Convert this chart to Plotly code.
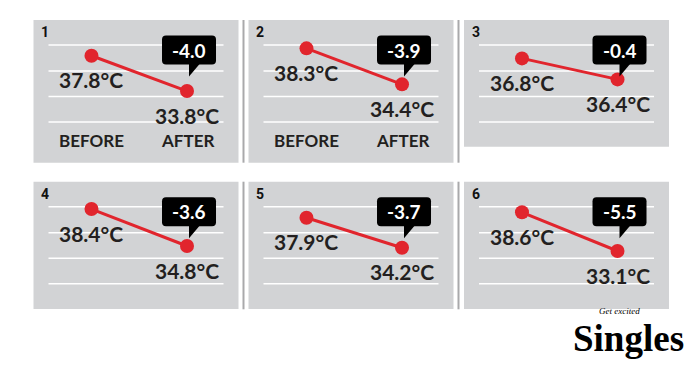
import plotly.graph_objects as go

# ---------------- data ----------------
categories = ["BEFORE", "AFTER"]
panel_numbers = ["1", "2", "3", "4", "5", "6"]
before_temp = [37.8, 38.3, 36.8, 38.4, 37.9, 38.6]
after_temp = [33.8, 34.4, 36.4, 34.8, 34.2, 33.1]
show_category_labels = [True, True, False, False, False, False]

# ---------------- layout / style ----------------
OFF = 8                      # page body margin
W, H = 700 - OFF, 371 - OFF  # figure size so the page fits the window
GRAY = "#d2d3d5"
RED = "#e1252d"
INK = "#231f20"
SEP = "#a9a9ab"
FONT = "Lato"

col_left = [33.5, 248.5, 464.0, 33.5, 248.5, 464.0]
panel_w = 205.0
panel_tb = [(20, 162.7), (20, 162.7), (20, 146.7),
            (181.7, 309), (181.7, 309), (181.7, 309)]
# per-panel y axis ranges (infographic uses a free scale in every panel)
y_ranges = [[25.68, 41.85], [25.91, 41.37], [35.12, 37.53],
            [28.67, 41.06], [26.64, 42.34], [24.86, 42.95]]
x_range = [-0.607, 1.539]
grid_rel = [25, 51, 76.5, 102]


def X(p):
    return (p - OFF) / W


def Y(p):
    return 1 - (p - OFF) / H


fig = go.Figure()
shapes = []
annotations = []

# separators
for sx in (243.5, 458.5):
    for (t, b) in ((20, 162.7), (181.7, 309.3)):
        shapes.append(dict(type="line", xref="paper", yref="paper",
                           x0=X(sx), x1=X(sx), y0=Y(t), y1=Y(b),
                           line=dict(color=SEP, width=2), layer="below"))

for i in range(6):
    left = col_left[i]
    right = left + panel_w
    top, bot = panel_tb[i]
    ph = bot - top
    ax = "" if i == 0 else str(i + 1)

    # panel background
    shapes.append(dict(type="rect", xref="paper", yref="paper",
                       x0=X(left), x1=X(right), y0=Y(bot), y1=Y(top),
                       fillcolor=GRAY, line=dict(width=0), layer="below"))
    # white guide lines
    for g in grid_rel:
        shapes.append(dict(type="line", xref="paper", yref="paper",
                           x0=X(left + 15), x1=X(right - 15),
                           y0=Y(top + g), y1=Y(top + g),
                           line=dict(color="white", width=1.5), layer="below"))

    fig.add_trace(go.Scatter(
        x=categories, y=[before_temp[i], after_temp[i]],
        mode="lines+markers",
        line=dict(color=RED, width=3),
        marker=dict(color=RED, size=14),
        xaxis="x" + ax, yaxis="y" + ax,
        showlegend=False, hoverinfo="skip"))

    fig.layout["xaxis" + ax] = dict(
        domain=[X(left), X(right)], range=x_range, type="category",
        visible=False, fixedrange=True, anchor="y" + ax)
    fig.layout["yaxis" + ax] = dict(
        domain=[Y(bot), Y(top)], range=y_ranges[i], visible=False,
        fixedrange=True, anchor="x" + ax)

    # value labels
    for cat, v in zip(categories, (before_temp[i], after_temp[i])):
        annotations.append(dict(
            xref="x" + ax, yref="y" + ax, x=cat, y=v, yshift=-24,
            text=f"{v:.1f}°C", showarrow=False,
            font=dict(family=FONT, size=21, color=INK, weight="bold")))

    # panel number
    annotations.append(dict(
        xref="paper", yref="paper", x=X(left + 5.5), y=Y(top + 12.5),
        xanchor="left", yanchor="middle", text=panel_numbers[i],
        showarrow=False,
        font=dict(family="Roboto", size=14, color="#111111", weight="bold")))

    # BEFORE / AFTER labels
    if show_category_labels[i]:
        for cat in categories:
            annotations.append(dict(
                xref="x" + ax, yref="y" + ax + " domain", x=cat,
                y=1 - 120 / ph, yanchor="middle", text=cat,
                showarrow=False,
                font=dict(family=FONT, size=17, color=INK, weight="bold")))

    # callout with the change
    delta = after_temp[i] - before_temp[i]
    px_after = left + (1 - x_range[0]) / (x_range[1] - x_range[0]) * panel_w
    cx, cy = px_after + 2, top + 30
    bw, bh, r = 54, 29, 4
    x0, x1, y0, y1 = cx - bw / 2, cx + bw / 2, cy - bh / 2, cy + bh / 2
    path = (f"M {X(x0 + r)},{Y(y0)} L {X(x1 - r)},{Y(y0)} "
            f"Q {X(x1)},{Y(y0)} {X(x1)},{Y(y0 + r)} "
            f"L {X(x1)},{Y(y1 - r)} Q {X(x1)},{Y(y1)} {X(x1 - r)},{Y(y1)} "
            f"L {X(x0 + r)},{Y(y1)} Q {X(x0)},{Y(y1)} {X(x0)},{Y(y1 - r)} "
            f"L {X(x0)},{Y(y0 + r)} Q {X(x0)},{Y(y0)} {X(x0 + r)},{Y(y0)} Z")
    shapes.append(dict(type="path", xref="paper", yref="paper", path=path,
                       fillcolor="black", line=dict(width=0), layer="above"))
    tail = (f"M {X(cx)},{Y(y1 - 1)} L {X(cx + 11)},{Y(y1 - 1)} "
            f"L {X(cx)},{Y(y1 + 12)} Z")
    shapes.append(dict(type="path", xref="paper", yref="paper", path=tail,
                       fillcolor="black", line=dict(width=0), layer="above"))
    annotations.append(dict(
        xref="paper", yref="paper", x=X(cx), y=Y(cy), xanchor="center",
        yanchor="middle", text=f"{delta:.1f}", showarrow=False,
        font=dict(family=FONT, size=19, color="white", weight="bold")))

# logo
annotations.append(dict(
    xref="paper", yref="paper", x=X(628), y=Y(338), xanchor="center",
    yanchor="middle", text="Singles", showarrow=False,
    font=dict(family="Liberation Serif", size=37, color="black",
              weight="bold")))
annotations.append(dict(
    xref="paper", yref="paper", x=X(619), y=Y(311), xanchor="center",
    yanchor="middle", text="<i>Get excited</i>", showarrow=False,
    font=dict(family="Liberation Serif", size=9, color="black")))

fig.update_layout(
    width=W, height=H, autosize=False,
    margin=dict(l=0, r=0, t=0, b=0),
    paper_bgcolor="white", plot_bgcolor="rgba(0,0,0,0)",
    shapes=shapes, annotations=annotations, showlegend=False)

fig.write_html("out.html")
